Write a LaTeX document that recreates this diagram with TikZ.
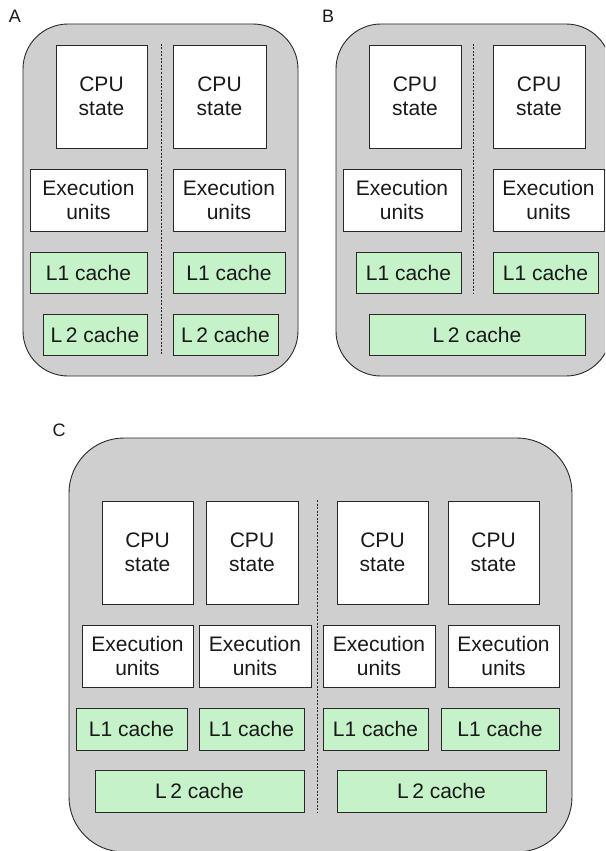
\documentclass[tikz,border=0pt]{standalone}
\usepackage{fontspec}
\setmainfont{Liberation Sans}
\begin{document}
\begin{tikzpicture}[x=1pt,y=-1pt,
  every node/.style={font=\fontsize{21}{23.5}\selectfont, text=txt, align=center, inner sep=0pt},
  chip/.style={draw=edge, fill=chipgray, line width=0.9pt},
  unit/.style={draw=edge, fill=white, line width=0.8pt},
  cache/.style={draw=edge, fill=cachegreen, line width=0.8pt},
  split/.style={draw=edge, line width=0.7pt, dash pattern=on 2pt off 1.5pt},
  tag/.style={font=\fontsize{18}{20}\selectfont}]
\definecolor{chipgray}{RGB}{207,207,207}
\definecolor{cachegreen}{RGB}{197,242,200}
\definecolor{edge}{RGB}{40,40,40}
\definecolor{txt}{RGB}{25,25,25}
\useasboundingbox (0,0) rectangle (605,851);
\clip (0,0) rectangle (605,851);
% box from corner (x1,y1) to (x2,y2)
\newcommand\blk[7]{\node[#2, minimum width={#5-#3}, minimum height={#6-#4}] (#1) at ({(#3+#5)/2},{(#4+#6)/2}) {#7};}

% ---------- A: two cores, private L2 ----------
\node[tag] (labA) at (15,16) {A};
\draw[chip, rounded corners=45] (23,24) rectangle (298,376);
\coordinate (dA1) at (161,44); \coordinate (dA2) at (161,355);
\draw[split] (dA1) -- (dA2);
\blk{cpuA1}{unit}{56}{45}{147}{148}{CPU\\state}
\blk{cpuA2}{unit}{173}{45}{266}{148}{CPU\\state}
\blk{exA1}{unit}{30}{169}{147}{231}{Execution\\units}
\blk{exA2}{unit}{173}{169}{285}{231}{Execution\\units}
\blk{loA1}{cache}{30}{252}{147}{293}{L1 cache}
\blk{loA2}{cache}{173}{252}{285}{293}{L1 cache}
\blk{ltA1}{cache}{43}{314}{147}{355}{L\,2 cache}
\blk{ltA2}{cache}{173}{314}{278}{355}{L\,2 cache}

% ---------- B: two cores, shared L2 ----------
\node[tag] (labB) at (328,16) {B};
\draw[chip, rounded corners=45] (336,24) rectangle (611,376);
\coordinate (dB1) at (473,44); \coordinate (dB2) at (473,294);
\draw[split] (dB1) -- (dB2);
\blk{cpuB1}{unit}{369}{45}{461}{148}{CPU\\state}
\blk{cpuB2}{unit}{493}{45}{585}{148}{CPU\\state}
\blk{exB1}{unit}{343}{169}{461}{231}{Execution\\units}
\blk{exB2}{unit}{493}{169}{604}{231}{Execution\\units}
\blk{loB1}{cache}{356}{252}{461}{293}{L1 cache}
\blk{loB2}{cache}{493}{252}{598}{293}{L1 cache}
\blk{ltB}{cache}{369}{314}{585}{355}{L\,2 cache}

% ---------- C: four cores, L2 shared by pairs ----------
\node[tag] (labC) at (59,430) {C};
\draw[chip, rounded corners=55] (69,438) rectangle (572,852);
\coordinate (dC1) at (317,500); \coordinate (dC2) at (317,812);
\draw[split] (dC1) -- (dC2);
\blk{cpuC1}{unit}{102}{501}{193}{604}{CPU\\state}
\blk{cpuC2}{unit}{206}{501}{298}{604}{CPU\\state}
\blk{cpuC3}{unit}{337}{501}{428}{604}{CPU\\state}
\blk{cpuC4}{unit}{448}{501}{539}{604}{CPU\\state}
\blk{exC1}{unit}{82}{625}{193}{687}{Execution\\units}
\blk{exC2}{unit}{199}{625}{311}{687}{Execution\\units}
\blk{exC3}{unit}{323}{625}{435}{687}{Execution\\units}
\blk{exC4}{unit}{448}{625}{559}{687}{Execution\\units}
\blk{loC1}{cache}{76}{708}{187}{750}{L1 cache}
\blk{loC2}{cache}{199}{708}{304}{750}{L1 cache}
\blk{loC3}{cache}{323}{708}{428}{750}{L1 cache}
\blk{loC4}{cache}{441}{708}{559}{750}{L1 cache}
\blk{ltC1}{cache}{95}{770}{304}{812}{L\,2 cache}
\blk{ltC2}{cache}{337}{770}{546}{812}{L\,2 cache}
\end{tikzpicture}
\end{document}
